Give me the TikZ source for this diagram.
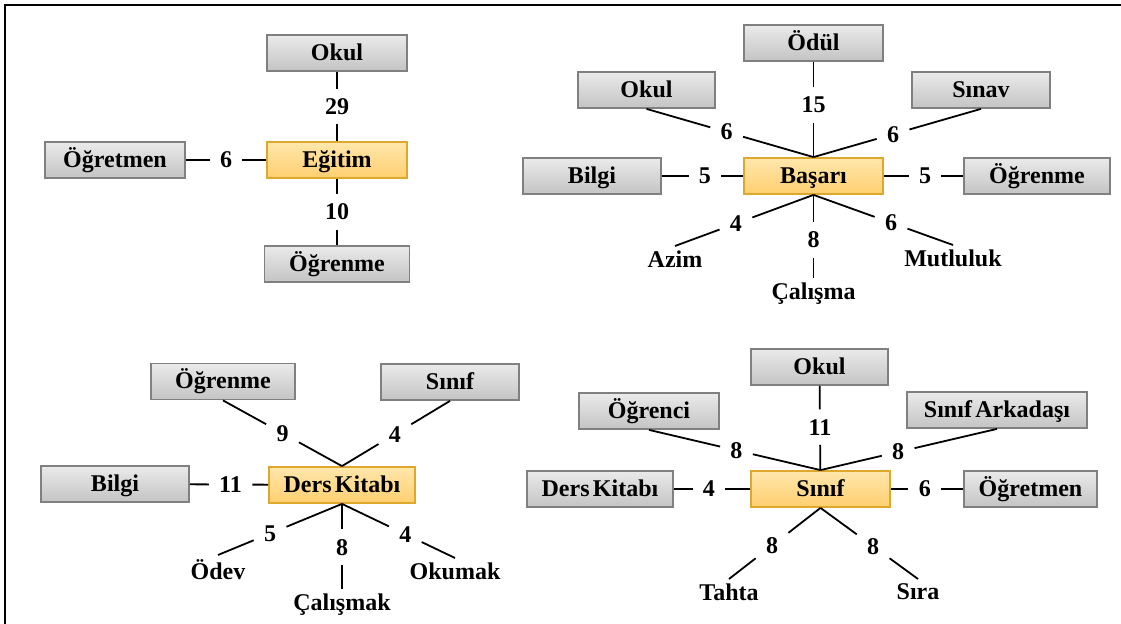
\documentclass[tikz,border=0pt]{standalone}
\usepackage{fontspec}
\setmainfont{Liberation Serif}
\definecolor{graytop}{RGB}{234,234,234}
\definecolor{graybot}{RGB}{196,196,196}
\definecolor{boxedge}{RGB}{128,128,128}
\definecolor{ytop}{RGB}{255,231,172}
\definecolor{ybot}{RGB}{255,207,112}
\definecolor{yedge}{RGB}{222,168,45}
\begin{document}
\begin{tikzpicture}[x=0.5pt,y=-0.5pt,
  font=\fontsize{12}{14}\selectfont\bfseries,
  gbox/.style={draw=boxedge, line width=0.9pt, top color=graytop, bottom color=graybot,
    minimum height=18pt, inner sep=2pt, text height=9.5pt, text depth=2pt},
  ybox/.style={draw=yedge, line width=0.9pt, top color=ytop, bottom color=ybot,
    minimum height=18pt, inner sep=2pt, text height=9.5pt, text depth=2pt},
  tight/.style={execute at begin node={\spaceskip=0.14em\relax}},
  num/.style={inner xsep=5pt, inner ysep=4.7pt},
  word/.style={anchor=north, inner sep=2pt},
  conn/.style={draw=black, line width=0.9pt}]
\useasboundingbox (0,0) rectangle (1121,624);
\draw[line width=1.3pt] (5,624) -- (5,5) -- (1121,5);

% ---------- Chart 1: Egitim ----------
\node[gbox, minimum width=70pt] (eokul) at (337,53) {Okul};
\node[ybox, minimum width=70pt] (egitim) at (337,160) {Eğitim};
\node[gbox, minimum width=70pt] (eogretmen) at (115,160) {Öğretmen};
\node[gbox, minimum width=72.5pt] (eogrenme) at (337,264) {Öğrenme};
\path (eokul) -- node[num,pos=0.5] (e1) {29} (egitim);
\path (eogretmen) -- node[num,pos=0.5] (e2) {6} (egitim);
\path (egitim) -- node[num,pos=0.5] (e3) {10} (eogrenme);
\draw[conn] (eokul) -- (e1) -- (egitim);
\draw[conn] (eogretmen) -- (e2) -- (egitim);
\draw[conn] (egitim) -- (e3) -- (eogrenme);

% ---------- Chart 2: Basari ----------
\node[gbox, minimum width=69.5pt] (bodul) at (813.5,43) {Ödül};
\node[gbox, minimum width=68.5pt] (bokul) at (646.5,90) {Okul};
\node[gbox, minimum width=69pt] (bsinav) at (981,90) {Sınav};
\node[gbox, minimum width=69pt] (bbilgi) at (592,176) {Bilgi};
\node[ybox, minimum width=69.5pt] (basari) at (813.5,176) {Başarı};
\node[gbox, minimum width=73pt] (bogrenme) at (1037,176) {Öğrenme};
\node[word] (bazim) at (675,246) {Azim};
\node[word] (bcalisma) at (813.5,278) {Çalışma};
\node[word] (bmutlu) at (953,245) {Mutluluk};
\path (bodul) -- node[num,pos=0.45] (b1) {15} (basari);
\path (bokul.south) -- node[num,pos=0.48] (b2) {6} (basari.north);
\path (bsinav.south) -- node[num,pos=0.525] (b3) {6} (basari.north);
\path (bbilgi) -- node[num,pos=0.53] (b4) {5} (basari);
\path (basari) -- node[num,pos=0.52] (b5) {5} (bogrenme);
\path (basari.south) -- node[num,pos=0.56] (b6) {4} (bazim.north);
\path (basari.south) -- node[num,pos=0.54] (b7) {8} (bcalisma.north);
\path (basari.south) -- node[num,pos=0.556] (b8) {6} (bmutlu.north);
\draw[conn] (bodul) -- (b1) -- (basari);
\draw[conn] (bokul.south) -- (b2) -- (basari.north);
\draw[conn] (bsinav.south) -- (b3) -- (basari.north);
\draw[conn] (bbilgi) -- (b4) -- (basari);
\draw[conn] (basari) -- (b5) -- (bogrenme);
\draw[conn] (basari.south) -- (b6) -- (bazim.north);
\draw[conn] (basari.south) -- (b7) -- (bcalisma.north);
\draw[conn] (basari.south) -- (b8) -- (bmutlu.north);

% ---------- Chart 3: Ders Kitabi ----------
\node[gbox, minimum width=72pt] (dogrenme) at (223,381.5) {Öğrenme};
\node[gbox, minimum width=69pt] (dsinif) at (450,382) {Sınıf};
\node[gbox, minimum width=74pt] (dbilgi) at (115,484) {Bilgi};
\node[ybox, tight, minimum width=73pt] (dkitap) at (342,485) {Ders Kitabı};
\node[word] (dodev) at (218,555) {Ödev};
\node[word] (dcalis) at (342,589) {Çalışmak};
\node[word] (dokuma) at (455,558) {Okumak};
\path (dogrenme.south) -- node[num,pos=0.5] (d1) {9} (dkitap.north);
\path (dsinif.south) -- node[num,pos=0.51] (d2) {4} (dkitap.north);
\path (dbilgi) -- node[num,pos=0.52] (d3) {11} (dkitap);
\path (dkitap.south) -- node[num,pos=0.58] (d4) {5} (dodev.north);
\path (dkitap.south) -- node[num,pos=0.51] (d5) {8} (dcalis.north);
\path (dkitap.south) -- node[num,pos=0.56] (d6) {4} (dokuma.north);
\draw[conn] (dogrenme.south) -- (d1) -- (dkitap.north);
\draw[conn] (dsinif.south) -- (d2) -- (dkitap.north);
\draw[conn] (dbilgi) -- (d3) -- (dkitap);
\draw[conn] (dkitap.south) -- (d4) -- (dodev.north);
\draw[conn] (dkitap.south) -- (d5) -- (dcalis.north);
\draw[conn] (dkitap.south) -- (d6) -- (dokuma.north);

% ---------- Chart 4: Sinif ----------
\node[gbox, minimum width=68.5pt] (sokul) at (819.5,367) {Okul};
\node[gbox, minimum width=70pt] (sogrenci) at (649,411) {Öğrenci};
\node[gbox, tight, minimum width=90pt] (sark) at (997,410) {Sınıf Arkadaşı};
\node[gbox, tight, minimum width=73pt] (skitap) at (600,489) {Ders Kitabı};
\node[ybox, minimum width=69.5pt] (sinif) at (820.5,489) {Sınıf};
\node[gbox, minimum width=66.5pt] (sogretmen) at (1030.5,489) {Öğretmen};
\node[word] (stahta) at (729,579) {Tahta};
\node[word] (ssira) at (918,579) {Sıra};
\path (sokul) -- node[num,pos=0.49] (s1) {11} (sinif);
\path (sogrenci.south) -- node[num,pos=0.51] (s2) {8} (sinif.north);
\path (sark.south) -- node[num,pos=0.56] (s3) {8} (sinif.north);
\path (skitap) -- node[num,pos=0.46] (s4) {4} (sinif);
\path (sinif) -- node[num,pos=0.47] (s5) {6} (sogretmen);
\path (sinif.south) -- node[num,pos=0.53] (s6) {8} (stahta.north);
\path (sinif.south) -- node[num,pos=0.54] (s7) {8} (ssira.north);
\draw[conn] (sokul) -- (s1) -- (sinif);
\draw[conn] (sogrenci.south) -- (s2) -- (sinif.north);
\draw[conn] (sark.south) -- (s3) -- (sinif.north);
\draw[conn] (skitap) -- (s4) -- (sinif);
\draw[conn] (sinif) -- (s5) -- (sogretmen);
\draw[conn] (sinif.south) -- (s6) -- (stahta.north);
\draw[conn] (sinif.south) -- (s7) -- (ssira.north);
\end{tikzpicture}
\end{document}
